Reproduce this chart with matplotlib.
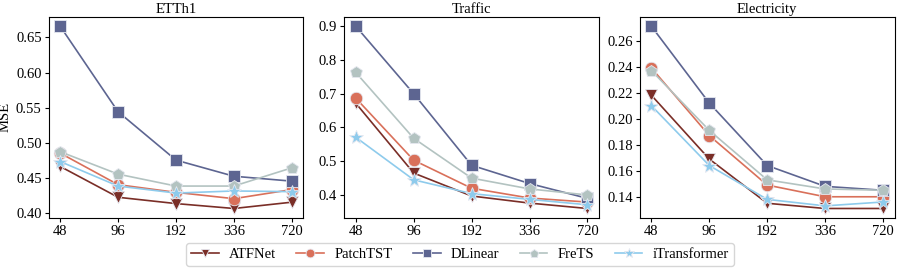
import matplotlib.pyplot as plt

plt.rcParams["font.family"] = ["Liberation Serif", "DejaVu Serif"]
plt.rcParams["font.size"] = 10.5
plt.rcParams["xtick.major.size"] = 3
plt.rcParams["ytick.major.size"] = 3
plt.rcParams["xtick.major.pad"] = 2
plt.rcParams["ytick.major.pad"] = 2

HORIZONS = ["48", "96", "192", "336", "720"]
DATASETS = ["ETTh1", "Traffic", "Electricity"]
MODELS = ["ATFNet", "PatchTST", "DLinear", "FreTS", "iTransformer"]

# MSE per model, one dict per dataset
ETTH1 = {
    "ATFNet":       [0.466, 0.422, 0.413, 0.406, 0.415],
    "PatchTST":     [0.485, 0.440, 0.429, 0.420, 0.433],
    "DLinear":      [0.666, 0.544, 0.475, 0.452, 0.445],
    "FreTS":        [0.487, 0.455, 0.438, 0.438, 0.464],
    "iTransformer": [0.473, 0.438, 0.428, 0.431, 0.430],
}
TRAFFIC = {
    "ATFNet":       [0.672, 0.465, 0.397, 0.376, 0.360],
    "PatchTST":     [0.687, 0.503, 0.420, 0.391, 0.379],
    "DLinear":      [0.900, 0.700, 0.488, 0.434, 0.390],
    "FreTS":        [0.763, 0.568, 0.450, 0.418, 0.400],
    "iTransformer": [0.571, 0.445, 0.404, 0.387, 0.371],
}
ELECTRICITY = {
    "ATFNet":       [0.218, 0.169, 0.135, 0.131, 0.131],
    "PatchTST":     [0.239, 0.187, 0.149, 0.140, 0.140],
    "DLinear":      [0.271, 0.212, 0.164, 0.148, 0.145],
    "FreTS":        [0.237, 0.191, 0.153, 0.146, 0.145],
    "iTransformer": [0.210, 0.164, 0.138, 0.133, 0.136],
}

YTICKS = [
    [0.40, 0.45, 0.50, 0.55, 0.60, 0.65],
    [0.4, 0.5, 0.6, 0.7, 0.8, 0.9],
    [0.14, 0.16, 0.18, 0.20, 0.22, 0.24, 0.26],
]
YFMT = ["{:.2f}", "{:.1f}", "{:.2f}"]

COLOUR = {
    "ATFNet": "#7a2e27",
    "PatchTST": "#d9705a",
    "DLinear": "#5d6591",
    "FreTS": "#b3c3c1",
    "iTransformer": "#8ecbec",
}
MARKER = {"ATFNet": "v", "PatchTST": "o", "DLinear": "s", "FreTS": "p", "iTransformer": "*"}
MSIZE = {"ATFNet": 9, "PatchTST": 9, "DLinear": 9, "FreTS": 9, "iTransformer": 10}


def draw(ax, data, title, yticks, fmt):
    x = list(range(len(HORIZONS)))
    for m in MODELS:
        ax.plot(x, data[m], color=COLOUR[m], marker=MARKER[m], markersize=MSIZE[m],
                linewidth=1.2, markeredgecolor="#e6e8f0", markeredgewidth=0.6, label=m)
    ax.set_xticks(x)
    ax.set_xticklabels(HORIZONS)
    ax.set_yticks(yticks)
    ax.set_yticklabels([fmt.format(v) for v in yticks])
    ax.set_title(title, fontsize=10.5, pad=3)


fig, axes = plt.subplots(1, 3, figsize=(9, 2.72), dpi=100)
for ax, data, title, yt, fmt in zip(axes, [ETTH1, TRAFFIC, ELECTRICITY], DATASETS, YTICKS, YFMT):
    draw(ax, data, title, yt, fmt)
axes[0].set_ylabel("MSE", labelpad=3)

handles, labels = axes[0].get_legend_handles_labels()
fig.legend(handles, labels, loc="lower center", ncol=5, bbox_to_anchor=(0.511, -0.005),
           fontsize=10.5, frameon=True, handlelength=1.9, columnspacing=1.4,
           borderpad=0.35, markerscale=0.7, handletextpad=0.7)

fig.subplots_adjust(left=0.054, right=0.994, top=0.937, bottom=0.2, wspace=0.16)
fig.savefig("out.png", dpi=100)
